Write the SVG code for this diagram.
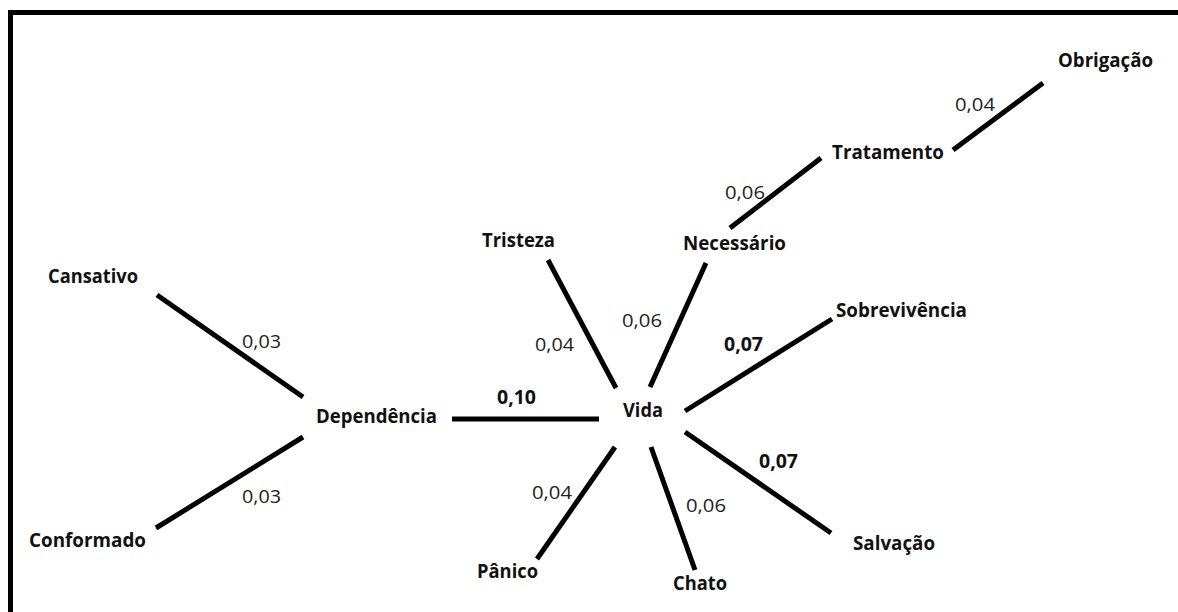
<svg xmlns="http://www.w3.org/2000/svg" width="1178" height="612" viewBox="0 0 1178 612">
<style>
.node{font-family:"Open Sans","Liberation Sans",sans-serif;font-weight:bold;font-size:20px;fill:#111}
.w{font-family:"Open Sans","Liberation Sans",sans-serif;font-size:19px;fill:#222}
.wb{font-family:"Open Sans","Liberation Sans",sans-serif;font-size:19px;font-weight:bold;fill:#111}
.edge{stroke:#000;stroke-width:5;fill:none;stroke-linecap:butt}
</style>
<rect width="1178" height="612" fill="#fff"/>
<path d="M10.5,612 V12.5 H1178" fill="none" stroke="#000" stroke-width="5"/>
<g id="connectors">
<line class="edge" x1="157" y1="295" x2="303" y2="397"/>
<line class="edge" x1="156" y1="528" x2="303" y2="437"/>
<line class="edge" x1="452" y1="419" x2="599" y2="419"/>
<line class="edge" x1="548" y1="260" x2="616" y2="388"/>
<line class="edge" x1="706" y1="263" x2="650" y2="387"/>
<line class="edge" x1="730" y1="228" x2="821" y2="158"/>
<line class="edge" x1="953" y1="150" x2="1043" y2="83"/>
<line class="edge" x1="685" y1="411" x2="832" y2="319"/>
<line class="edge" x1="685" y1="432" x2="831" y2="533"/>
<line class="edge" x1="615" y1="447" x2="537" y2="559"/>
<line class="edge" x1="651" y1="447" x2="695" y2="570"/>
<g id="weights">
<text class="w" x="242" y="348" textLength="39" lengthAdjust="spacingAndGlyphs">0,03</text>
<text class="w" x="242" y="503" textLength="39" lengthAdjust="spacingAndGlyphs">0,03</text>
<text class="wb" x="497" y="404" textLength="39" lengthAdjust="spacingAndGlyphs">0,10</text>
<text class="w" x="535" y="351" textLength="39" lengthAdjust="spacingAndGlyphs">0,04</text>
<text class="w" x="622" y="327" textLength="40" lengthAdjust="spacingAndGlyphs">0,06</text>
<text class="wb" x="724" y="351" textLength="39" lengthAdjust="spacingAndGlyphs">0,07</text>
<text class="wb" x="759" y="468" textLength="39" lengthAdjust="spacingAndGlyphs">0,07</text>
<text class="w" x="532" y="499" textLength="40" lengthAdjust="spacingAndGlyphs">0,04</text>
<text class="w" x="686" y="512" textLength="40" lengthAdjust="spacingAndGlyphs">0,06</text>
<text class="w" x="725" y="199" textLength="40" lengthAdjust="spacingAndGlyphs">0,06</text>
<text class="w" x="955" y="111" textLength="40" lengthAdjust="spacingAndGlyphs">0,04</text>
</g>
</g>
<g id="n-cansativo"><text class="node" x="48" y="283" textLength="90" lengthAdjust="spacingAndGlyphs">Cansativo</text></g>
<g id="n-conformado"><text class="node" x="29" y="547" textLength="117" lengthAdjust="spacingAndGlyphs">Conformado</text></g>
<g id="n-dependencia"><text class="node" x="316" y="423" textLength="121" lengthAdjust="spacingAndGlyphs">Dependência</text></g>
<g id="n-vida"><text class="node" x="623" y="417" textLength="40" lengthAdjust="spacingAndGlyphs">Vida</text></g>
<g id="n-tristeza"><text class="node" x="482" y="247" textLength="73" lengthAdjust="spacingAndGlyphs">Tristeza</text></g>
<g id="n-necessario"><text class="node" x="683" y="250" textLength="103" lengthAdjust="spacingAndGlyphs">Necessário</text></g>
<g id="n-tratamento"><text class="node" x="832" y="159" textLength="112" lengthAdjust="spacingAndGlyphs">Tratamento</text></g>
<g id="n-obrigacao"><text class="node" x="1058" y="67" textLength="95" lengthAdjust="spacingAndGlyphs">Obrigação</text></g>
<g id="n-sobrevivencia"><text class="node" x="836" y="317" textLength="131" lengthAdjust="spacingAndGlyphs">Sobrevivência</text></g>
<g id="n-salvacao"><text class="node" x="853" y="550" textLength="82" lengthAdjust="spacingAndGlyphs">Salvação</text></g>
<g id="n-panico"><text class="node" x="477" y="578" textLength="61" lengthAdjust="spacingAndGlyphs">Pânico</text></g>
<g id="n-chato"><text class="node" x="673" y="590" textLength="54" lengthAdjust="spacingAndGlyphs">Chato</text></g>
</svg>
